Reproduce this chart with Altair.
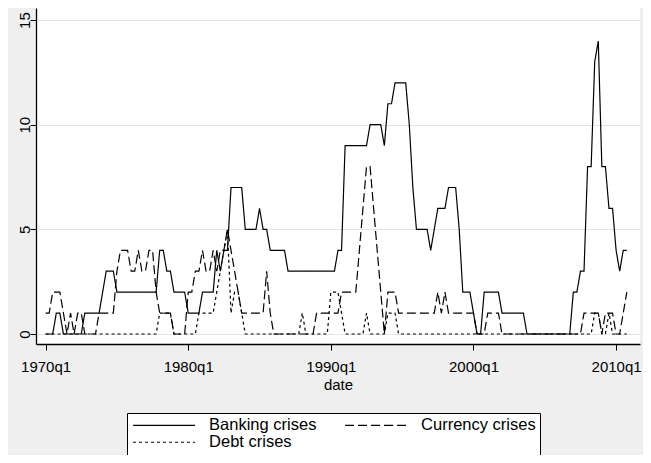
import altair as alt
import pandas as pd

# Quarterly observations, 1970q1 .. 2010q4 (four values per year)
years = list(range(1970, 2011))
series_names = ["Banking crises", "Currency crises", "Debt crises"]

banking = [
    0, 0, 0, 1,   # 1970
    1, 0, 0, 0,   # 1971
    0, 0, 0, 1,   # 1972
    1, 1, 1, 1,   # 1973
    2, 3, 3, 3,   # 1974
    2, 2, 2, 2,   # 1975
    2, 2, 2, 2,   # 1976
    2, 2, 2, 2,   # 1977
    4, 4, 3, 3,   # 1978
    2, 2, 2, 2,   # 1979
    1, 1, 1, 1,   # 1980
    2, 2, 2, 2,   # 1981
    4, 3, 4, 4,   # 1982
    7, 7, 7, 7,   # 1983
    5, 5, 5, 5,   # 1984
    6, 5, 5, 4,   # 1985
    4, 4, 4, 4,   # 1986
    3, 3, 3, 3,   # 1987
    3, 3, 3, 3,   # 1988
    3, 3, 3, 3,   # 1989
    3, 3, 4, 4,   # 1990
    9, 9, 9, 9,   # 1991
    9, 9, 9, 10,  # 1992
    10, 10, 10, 9,  # 1993
    11, 11, 12, 12,  # 1994
    12, 12, 10, 7,   # 1995
    5, 5, 5, 5,   # 1996
    4, 5, 6, 6,   # 1997
    6, 7, 7, 7,   # 1998
    5, 2, 2, 2,   # 1999
    1, 0, 0, 2,   # 2000
    2, 2, 2, 2,   # 2001
    1, 1, 1, 1,   # 2002
    1, 1, 1, 0,   # 2003
    0, 0, 0, 0,   # 2004
    0, 0, 0, 0,   # 2005
    0, 0, 0, 0,   # 2006
    2, 2, 3, 3,   # 2007
    8, 8, 13, 14,  # 2008
    8, 8, 6, 6,   # 2009
    4, 3, 4, 4,   # 2010
]

currency = [
    1, 1, 2, 2,   # 1970
    2, 1, 0, 1,   # 1971
    0, 1, 1, 0,   # 1972
    0, 0, 0, 1,   # 1973
    1, 1, 1, 1,   # 1974
    3, 4, 4, 4,   # 1975
    3, 3, 4, 3,   # 1976
    3, 4, 4, 2,   # 1977
    1, 1, 1, 1,   # 1978
    0, 0, 0, 0,   # 1979
    2, 2, 3, 3,   # 1980
    4, 3, 3, 4,   # 1981
    3, 4, 4, 5,   # 1982
    4, 3, 2, 1,   # 1983
    1, 1, 1, 1,   # 1984
    1, 1, 3, 1,   # 1985
    0, 0, 0, 0,   # 1986
    0, 0, 0, 0,   # 1987
    0, 0, 0, 0,   # 1988
    1, 1, 1, 1,   # 1989
    1, 1, 1, 2,   # 1990
    2, 2, 2, 2,   # 1991
    4, 6, 8, 8,   # 1992
    6, 4, 2, 0,   # 1993
    2, 2, 2, 1,   # 1994
    1, 1, 1, 1,   # 1995
    1, 1, 1, 1,   # 1996
    1, 1, 2, 1,   # 1997
    2, 1, 1, 1,   # 1998
    1, 1, 1, 1,   # 1999
    1, 0, 0, 0,   # 2000
    1, 1, 1, 1,   # 2001
    0, 0, 0, 0,   # 2002
    0, 0, 0, 0,   # 2003
    0, 0, 0, 0,   # 2004
    0, 0, 0, 0,   # 2005
    0, 0, 0, 0,   # 2006
    0, 0, 0, 1,   # 2007
    1, 1, 1, 1,   # 2008
    0, 1, 1, 1,   # 2009
    0, 0, 1, 2,   # 2010
]

debt = [
    0, 0, 0, 0,   # 1970
    0, 0, 0, 0,   # 1971
    0, 0, 0, 0,   # 1972
    0, 0, 0, 0,   # 1973
    0, 0, 0, 0,   # 1974
    0, 0, 0, 0,   # 1975
    0, 0, 0, 0,   # 1976
    0, 0, 0, 0,   # 1977
    1, 1, 1, 1,   # 1978
    0, 0, 0, 0,   # 1979
    0, 0, 0, 1,   # 1980
    1, 1, 1, 1,   # 1981
    2, 3, 4, 5,   # 1982
    1, 2, 2, 1,   # 1983
    0, 0, 0, 0,   # 1984
    0, 0, 0, 0,   # 1985
    0, 0, 0, 0,   # 1986
    0, 0, 0, 0,   # 1987
    1, 0, 0, 0,   # 1988
    0, 0, 0, 0,   # 1989
    2, 2, 2, 1,   # 1990
    0, 0, 0, 0,   # 1991
    0, 0, 1, 0,   # 1992
    0, 0, 0, 0,   # 1993
    1, 1, 1, 0,   # 1994
    0, 0, 0, 0,   # 1995
    0, 0, 0, 0,   # 1996
    0, 0, 0, 0,   # 1997
    0, 0, 0, 0,   # 1998
    0, 0, 0, 0,   # 1999
    0, 0, 0, 0,   # 2000
    0, 0, 0, 0,   # 2001
    0, 0, 0, 0,   # 2002
    0, 0, 0, 0,   # 2003
    0, 0, 0, 0,   # 2004
    0, 0, 0, 0,   # 2005
    0, 0, 0, 0,   # 2006
    0, 0, 0, 0,   # 2007
    0, 0, 1, 1,   # 2008
    0, 0, 1, 0,   # 2009
    0, 0, 0, 0,   # 2010
]

x_tick_values = [0, 40, 80, 120, 160]
x_tick_labels = ["1970q1", "1980q1", "1990q1", "2000q1", "2010q1"]
y_tick_values = [0, 5, 10, 15]

quarter_index = list(range(len(years) * 4))
rows = []
for name, vals in zip(series_names, [banking, currency, debt]):
    for q, v in zip(quarter_index, vals):
        rows.append({"q": q, "value": v, "series": name})
df = pd.DataFrame(rows)

label_expr = "''"
for v, lab in zip(reversed(x_tick_values), reversed(x_tick_labels)):
    label_expr = f"datum.value == {v} ? '{lab}' : ({label_expr})"

FONT = "Liberation Sans"

chart = alt.Chart(df).mark_line(strokeWidth=1.2, color="black").encode(
    x=alt.X(
        "q:Q",
        scale=alt.Scale(domain=[-2.69, 166.7], nice=False, zero=False),
        axis=alt.Axis(
            values=x_tick_values, labelExpr=label_expr, title="date", grid=False,
            tickSize=6, tickColor="black", domainColor="black", domainWidth=1.3,
            labelFont=FONT, labelFontSize=15, labelColor="black", labelPadding=9,
            titleFont=FONT, titleFontSize=15, titleFontWeight="normal",
            titleColor="black", titlePadding=3,
        ),
    ),
    y=alt.Y(
        "value:Q",
        scale=alt.Scale(domain=[-0.478, 15.576], nice=False, zero=False),
        axis=alt.Axis(
            values=y_tick_values, title=None, grid=True, gridColor="#e4e4e4",
            tickSize=6, tickColor="black", domainColor="black", domainWidth=1.3,
            labelFont=FONT, labelFontSize=15, labelColor="black",
            labelAngle=270, labelAlign="center", labelBaseline="middle",
            labelPadding=6,
        ),
    ),
    strokeDash=alt.StrokeDash(
        "series:N",
        scale=alt.Scale(domain=series_names, range=[[1, 0], [9, 4], [3, 3]]),
        legend=alt.Legend(
            title=None, orient="none", legendX=91, legendY=405, columns=2,
            direction="horizontal", symbolType="M-1,0H9", symbolSize=154,
            symbolStrokeWidth=1.2, symbolStrokeColor="black",
            labelFont=FONT, labelFontSize=16.5, labelColor="black", labelOffset=61.6,
            columnPadding=25, rowPadding=0, padding=4,
            strokeColor="black", fillColor="white",
        ),
    ),
).properties(
    width=604, height=336, autosize="none",
    padding={"left": 28, "top": 0, "right": 3, "bottom": 111},
    background="#efefef",
).configure_view(stroke=None, fill="white")

chart.save("out.html", embed_options={"renderer": "svg", "actions": False})
